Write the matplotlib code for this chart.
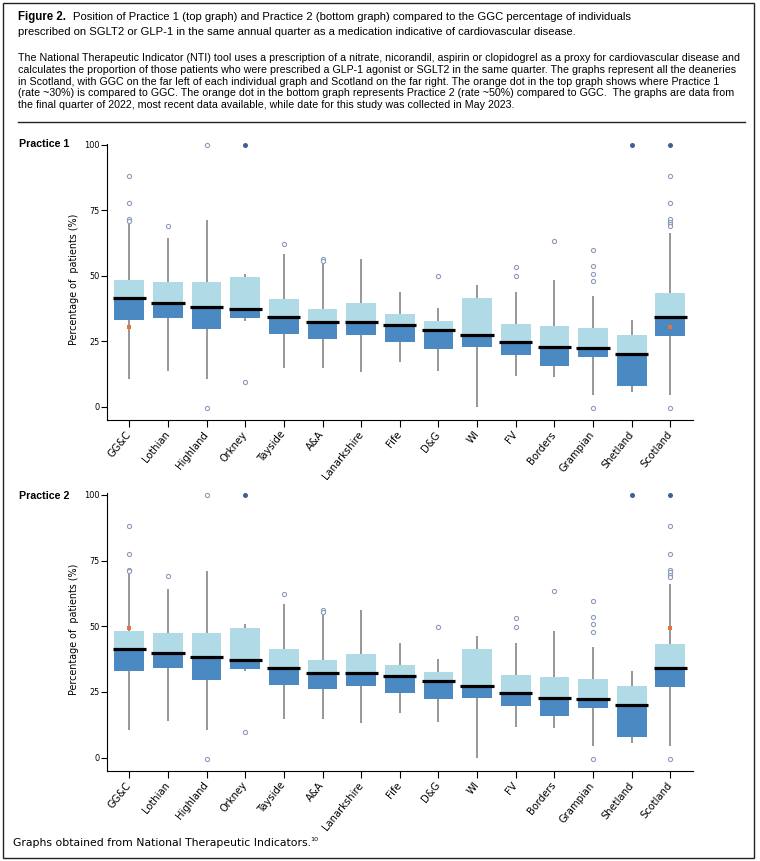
import matplotlib
matplotlib.use('Agg')
import matplotlib.pyplot as plt
import numpy as np
from matplotlib import font_manager
from matplotlib.patches import Rectangle
from matplotlib.lines import Line2D

regions = ['GG&C', 'Lothian', 'Highland', 'Orkney', 'Tayside', 'A&A', 'Lanarkshire',
           'Fife', 'D&G', 'WI', 'FV', 'Borders', 'Grampian', 'Shetland', 'Scotland']
q3 = [48.3, 47.6, 47.6, 49.4, 41.2, 37.2, 39.5, 35.4, 32.7, 41.4, 31.6, 30.8, 30.1, 27.4, 43.4]
median = [41.5, 39.7, 38.2, 37.3, 34.3, 32.4, 32.4, 31.2, 29.3, 27.4, 24.8, 22.9, 22.5, 20.1, 34.3]
q1 = [33.0, 34.0, 29.7, 33.8, 27.8, 26.0, 27.3, 24.7, 22.2, 22.8, 19.8, 15.7, 18.9, 7.8, 26.9]
whisker_hi = [69.8, 64.3, 71.2, 50.7, 58.4, 54.8, 56.3, 43.7, 37.7, 46.4, 43.7, 48.3, 42.3, 33.0, 66.3]
whisker_lo = [10.5, 13.8, 10.7, 32.9, 14.9, 14.9, 13.3, 17.0, 13.5, 0.0, 11.6, 11.2, 4.5, 5.5, 4.5]

# open-circle outliers
outlier_region = ['GG&C', 'GG&C', 'GG&C', 'GG&C', 'Lothian', 'Highland', 'Highland', 'Orkney',
                  'Tayside', 'A&A', 'A&A', 'D&G', 'FV', 'FV', 'Borders',
                  'Grampian', 'Grampian', 'Grampian', 'Grampian', 'Grampian',
                  'Scotland', 'Scotland', 'Scotland', 'Scotland', 'Scotland', 'Scotland', 'Scotland']
outlier_value = [88.2, 77.7, 71.6, 71.0, 69.0, 100, -0.5, 9.6,
                 62.3, 56.3, 55.6, 49.8, 53.3, 49.8, 63.4,
                 59.8, 53.6, 50.8, 47.9, -0.5,
                 88.2, 77.7, 71.6, 70.6, 69.7, 68.9, -0.5]
# filled outliers at 100%
filled_region = ['Orkney', 'Shetland', 'Scotland']
filled_value = [100, 100, 100]
# practice positions (orange dots)
practice_region = ['GG&C', 'Scotland']
practice1_value = [30.3, 30.3]
practice2_value = [49.3, 49.3]

names = {f.name for f in font_manager.fontManager.ttflist}
text_font = 'Liberation Sans Narrow' if 'Liberation Sans Narrow' in names else 'Liberation Sans'
plot_font = 'DejaVu Sans'

W, H = 760, 861
fig = plt.figure(figsize=(W / 100, H / 100), dpi=100)
renderer = fig.canvas.get_renderer()


def fx(x):
    return x / W


def fy(y):
    return 1 - y / H


def fit_text(x, y, s, width, size=8, **kw):
    t = fig.text(fx(x), fy(y), s, fontsize=size, va='center', ha='left', **kw)
    for _ in range(3):
        w = t.get_window_extent(renderer).width
        t.set_fontsize(t.get_fontsize() * width / w)
    return t


light = '#b1dae7'
dark = '#4b89c2'
idx = {r: i for i, r in enumerate(regions)}
xs = np.arange(len(regions))


def draw_panel(ax, practice_value):
    ax.vlines(xs, whisker_lo, whisker_hi, color='#7b7b7b', lw=1.1, zorder=1)
    ax.bar(xs, np.array(median) - np.array(q1), bottom=q1, width=0.77, color=dark, zorder=2)
    ax.bar(xs, np.array(q3) - np.array(median), bottom=median, width=0.77, color=light, zorder=2)
    ax.hlines(median, xs - 0.43, xs + 0.43, color='black', lw=2.3, zorder=3)
    ax.scatter([idx[r] for r in outlier_region], outlier_value, s=9, facecolors='white',
               edgecolors='#8e9bc0', linewidths=0.8, zorder=4, clip_on=False)
    ax.scatter([idx[r] for r in filled_region], filled_value, s=13, color='#3f5f96',
               zorder=4, clip_on=False, linewidths=0)
    ax.scatter([idx[r] for r in practice_region], practice_value, s=11, marker='s',
               color='#e8733a', zorder=5, linewidths=0)
    ax.set_xlim(-0.585, 14.595)
    ax.set_yticks([0, 25, 50, 75, 100])
    ax.set_xticks(xs)
    ax.set_xticklabels(regions, rotation=51, ha='right', va='center', rotation_mode='anchor',
                       fontsize=7.2, family=plot_font)
    for lab in ax.get_yticklabels():
        lab.set_family(plot_font)
    ax.tick_params(axis='y', length=4, width=0.8, labelsize=5.9, pad=1)
    ax.tick_params(axis='x', length=5, width=0.8, pad=4)
    for s in ['top', 'right']:
        ax.spines[s].set_visible(False)
    for s in ['left', 'bottom']:
        ax.spines[s].set_linewidth(0.8)
    ax.set_ylabel('Percentage of  patients (%)', fontsize=6.9, family=plot_font)
    ax.yaxis.set_label_coords(-0.047, 0.51)


ax1 = fig.add_axes([fx(106.7), fy(420), 586.6 / W, 276.4 / H])
ax1.set_ylim(-5.1, 100.5)
draw_panel(ax1, practice1_value)

ax2 = fig.add_axes([fx(106.7), fy(770.8), 586.6 / W, 277.4 / H])
ax2.set_ylim(-5.0, 100.6)
draw_panel(ax2, practice2_value)

# frame and separator
fig.patches.append(Rectangle((fx(3), fy(858)), fx(751), 855 / H, transform=fig.transFigure,
                             fill=False, edgecolor='#222222', lw=1.0))
fig.lines.append(Line2D([fx(18), fx(745)], [fy(121.7), fy(121.7)], transform=fig.transFigure,
                        color='#222222', lw=1.0))

# caption
t_fig = fit_text(18, 16.7, 'Figure 2.', 48, size=8.5, family=text_font, weight='bold')
title1 = 'Position of Practice 1 (top graph) and Practice 2 (bottom graph) compared to the GGC percentage of individuals'
title2 = 'prescribed on SGLT2 or GLP-1 in the same annual quarter as a medication indicative of cardiovascular disease.'
t1 = fit_text(73, 16.7, title1, 631 - 73, size=8.5, family=text_font)
fig.text(fx(18), fy(32.3), title2, fontsize=t1.get_fontsize(), family=text_font, va='center')

body = [
    'The National Therapeutic Indicator (NTI) tool uses a prescription of a nitrate, nicorandil, aspirin or clopidogrel as a proxy for cardiovascular disease and',
    'calculates the proportion of those patients who were prescribed a GLP-1 agonist or SGLT2 in the same quarter. The graphs represent all the deaneries',
    'in Scotland, with GGC on the far left of each individual graph and Scotland on the far right. The orange dot in the top graph shows where Practice 1',
    '(rate ~30%) is compared to GGC. The orange dot in the bottom graph represents Practice 2 (rate ~50%) compared to GGC.  The graphs are data from',
    'the final quarter of 2022, most recent data available, while date for this study was collected in May 2023.',
]
body_y = [58.3, 70.0, 81.7, 93.3, 105.0]
b0 = fit_text(18, body_y[0], body[0], 742 - 18, size=7, family=text_font)
for line, y in zip(body[1:], body_y[1:]):
    fig.text(fx(18), fy(y), line, fontsize=b0.get_fontsize(), family=text_font, va='center')

fit_text(19, 144.3, 'Practice 1', 50, size=7.5, family=text_font, weight='bold')
fit_text(19, 496, 'Practice 2', 50, size=7.5, family=text_font, weight='bold')

foot = fit_text(13, 843, 'Graphs obtained from National Therapeutic Indicators.', 310 - 13,
                size=7.5, family=plot_font)
fig.text(fx(310.5), fy(839.5), '10', fontsize=4.6, family=plot_font, va='center', ha='left')

fig.savefig('out.png', dpi=100)
